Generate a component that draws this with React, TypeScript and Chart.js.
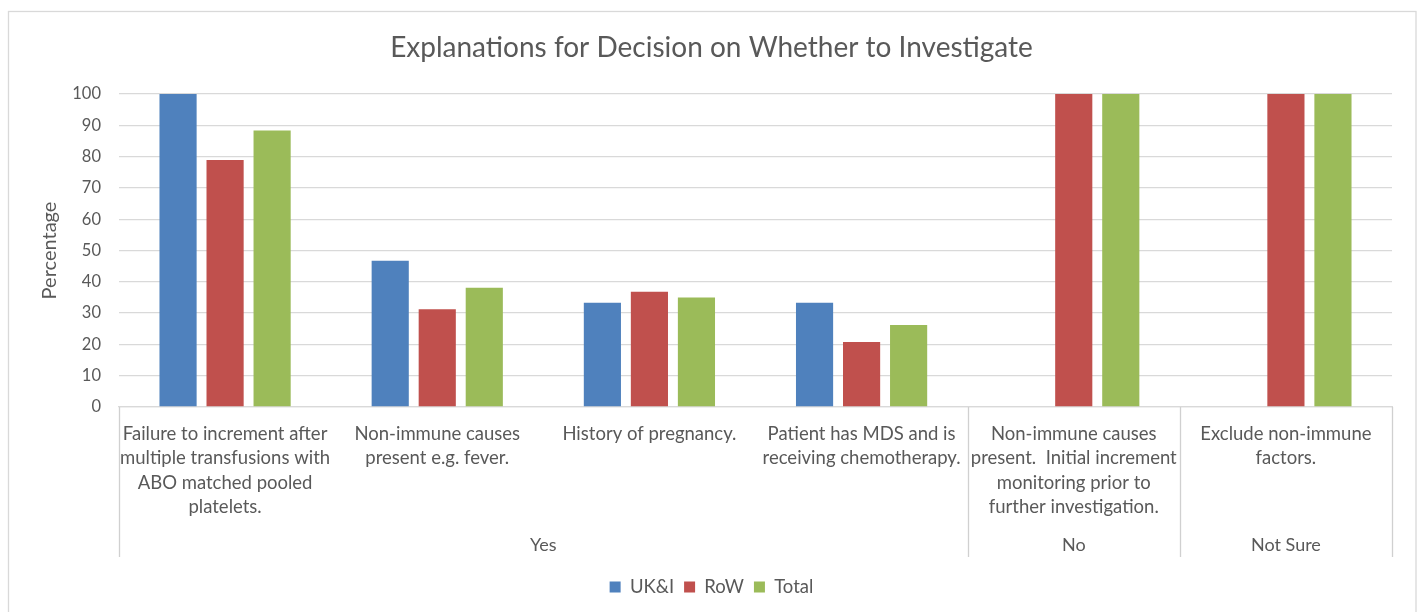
import React, { useEffect, useRef } from "react";
import { Chart, registerables } from "chart.js";

Chart.register(...registerables);

// Category labels, pre-wrapped into lines
const categories: string[][] = [
  ["Failure to increment after", "multiple transfusions with", "ABO matched pooled", "platelets."],
  ["Non-immune causes", "present e.g. fever."],
  ["History of pregnancy."],
  ["Patient has MDS and is", "receiving chemotherapy."],
  ["Non-immune causes", "present.  Initial increment", "monitoring prior to", "further investigation."],
  ["Exclude non-immune", "factors."],
];

// Outer grouping of the categories
const groups: string[] = ["Yes", "No", "Not Sure"];
const groupSpans: number[] = [4, 1, 1];

// Percentages per series
const ukiValues: number[] = [100, 46.7, 33.3, 33.3, 0, 0];
const rowValues: number[] = [78.9, 31.2, 36.8, 20.8, 100, 100];
const totalValues: number[] = [88.3, 38.1, 35.0, 26.2, 100, 100];

const seriesNames: string[] = ["UK&I", "RoW", "Total"];
const seriesColors: string[] = ["#4F81BD", "#C0504D", "#9BBB59"];

const yMin = 0;
const yMax = 100;
const yStep = 10;

const FONT = "Lato, 'Open Sans', sans-serif";
const TEXT = "#595959";
const LINE = "#D9D9D9";

const groupAxisPlugin = {
  id: "groupAxis",
  beforeDraw(chart: any) {
    const { ctx, width, height } = chart;
    ctx.save();
    ctx.fillStyle = "#FFFFFF";
    ctx.fillRect(0, 0, width, height);
    ctx.strokeStyle = LINE;
    ctx.lineWidth = 1.3;
    ctx.strokeRect(8.5, 11.5, width - 15.5, height + 20);
    ctx.restore();
  },
  afterDraw(chart: any) {
    const { ctx, chartArea } = chart;
    const x = chart.scales.x;
    const bounds: number[] = [0];
    let acc = 0;
    groupSpans.forEach((s) => {
      acc += s;
      bounds.push(acc);
    });
    const lineBottom = 557;
    ctx.save();
    ctx.strokeStyle = "#D0D0D0";
    ctx.lineWidth = 1.3;
    bounds.forEach((b) => {
      const px = Math.round(x.getPixelForValue(b - 0.5)) + 0.5;
      ctx.beginPath();
      ctx.moveTo(px, chartArea.bottom);
      ctx.lineTo(px, lineBottom);
      ctx.stroke();
    });
    ctx.fillStyle = TEXT;
    ctx.font = `18px ${FONT}`;
    ctx.textAlign = "center";
    ctx.textBaseline = "middle";
    groups.forEach((g, i) => {
      const a = x.getPixelForValue(bounds[i] - 0.5);
      const b = x.getPixelForValue(bounds[i + 1] - 0.5);
      ctx.fillText(g, (a + b) / 2, 545);
    });
    ctx.restore();
  },
};

export default function App() {
  const canvasRef = useRef<HTMLCanvasElement | null>(null);

  useEffect(() => {
    if (!canvasRef.current) return;
    const values = [ukiValues, rowValues, totalValues];
    const chart = new Chart(canvasRef.current, {
      type: "bar",
      data: {
        labels: categories,
        datasets: seriesNames.map((name, i) => ({
          label: name,
          data: values[i],
          backgroundColor: seriesColors[i],
          borderWidth: 0,
          categoryPercentage: 0.665,
          barPercentage: 0.79,
        })),
      },
      options: {
        responsive: false,
        animation: false,
        layout: {
          autoPadding: false,
          padding: { left: 31, right: 31, top: 0, bottom: 5.75 },
        },
        plugins: {
          title: {
            display: true,
            text: "Explanations for Decision on Whether to Investigate",
            color: TEXT,
            font: { family: FONT, size: 28, weight: "normal", lineHeight: 1.2 },
            padding: { top: 31.2, bottom: 29.2 },
          },
          legend: {
            display: true,
            position: "bottom",
            labels: {
              color: TEXT,
              font: { family: FONT, size: 18.5 },
              boxWidth: 11,
              boxHeight: 11,
              padding: 10,
            },
          },
          tooltip: { enabled: false },
        },
        scales: {
          x: {
            grid: { display: false, drawTicks: false },
            border: { display: true, color: LINE, width: 1.3 },
            ticks: {
              color: TEXT,
              font: { family: FONT, size: 18.5, lineHeight: 1.31 },
              padding: 15,
              maxRotation: 0,
              minRotation: 0,
              autoSkip: false,
            },
            afterFit: (scale: any) => {
              scale.height = 160.75;
            },
          },
          y: {
            min: yMin,
            max: yMax,
            grid: { color: LINE, lineWidth: 1.3, drawTicks: false },
            border: { display: false },
            ticks: {
              stepSize: yStep,
              color: TEXT,
              font: { family: FONT, size: 16.5 },
              padding: 18,
            },
            title: {
              display: true,
              text: "Percentage",
              color: TEXT,
              font: { family: FONT, size: 20, lineHeight: 1.2 },
              padding: { top: 7, bottom: 0 },
            },
            afterFit: (scale: any) => {
              scale.width = 88;
            },
          },
        },
      },
      plugins: [groupAxisPlugin],
    });
    return () => chart.destroy();
  }, []);

  return (
    <div style={{ position: "fixed", left: 0, top: 0, width: 1423, height: 612, background: "#fff" }}>
      <canvas ref={canvasRef} width={1423} height={612} />
    </div>
  );
}
